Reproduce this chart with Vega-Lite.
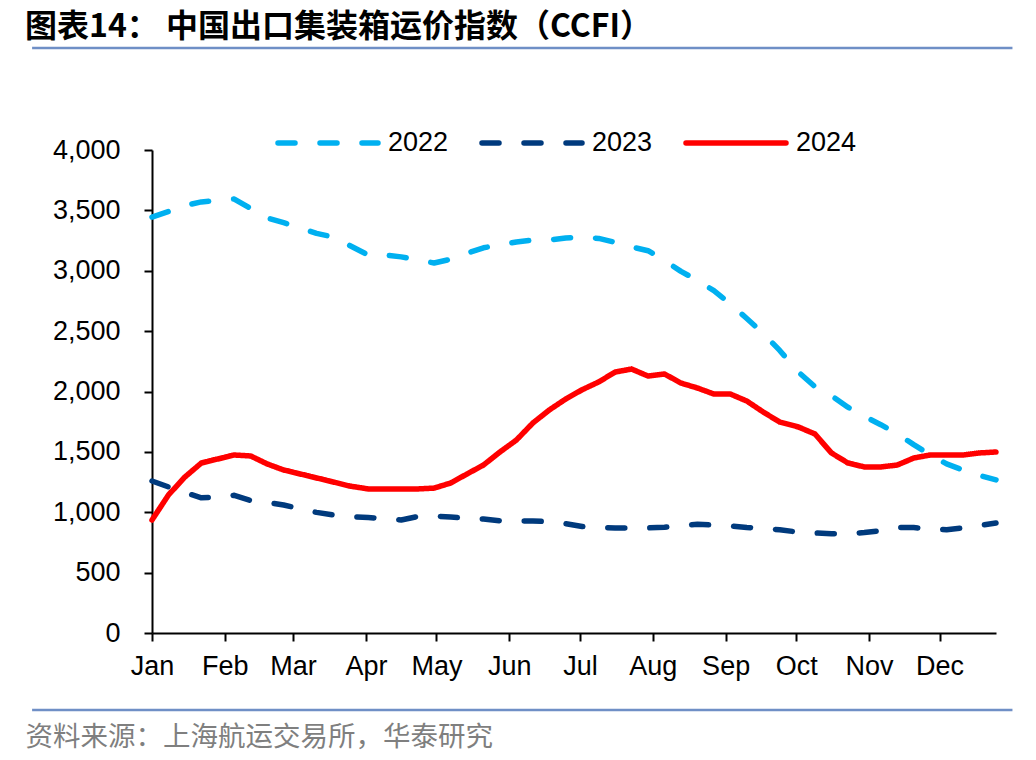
{
  "$schema": "https://vega.github.io/schema/vega-lite/v6.json",
  "width": 844,
  "height": 483,
  "autosize": {"type": "none"},
  "padding": {"left": 152, "top": 150, "right": 40, "bottom": 127},
  "background": "white",
  "title": {
    "text": "图表14： 中国出口集装箱运价指数（CCFI）",
    "anchor": "start",
    "frame": "group",
    "dx": -127,
    "offset": 3,
    "font": "Noto Sans CJK SC",
    "fontSize": 32,
    "fontWeight": "bold",
    "color": "#000000"
  },
  "config": {
    "view": {"stroke": null},
    "axis": {
      "labelFont": "Liberation Sans",
      "labelFontSize": 27,
      "labelColor": "#000000",
      "domainColor": "#000000",
      "domainWidth": 2,
      "tickColor": "#000000",
      "tickWidth": 2,
      "tickSize": 8,
      "grid": false
    }
  },
  "datasets": {
    "ccfi": [
      {"date":"2024-01-01","year":"2022","value":3445},
      {"date":"2024-01-08","year":"2022","value":3490},
      {"date":"2024-01-15","year":"2022","value":3540},
      {"date":"2024-01-22","year":"2022","value":3570},
      {"date":"2024-01-29","year":"2022","value":3582},
      {"date":"2024-02-05","year":"2022","value":3594},
      {"date":"2024-02-12","year":"2022","value":3515},
      {"date":"2024-02-19","year":"2022","value":3437},
      {"date":"2024-02-26","year":"2022","value":3398},
      {"date":"2024-03-04","year":"2022","value":3355},
      {"date":"2024-03-11","year":"2022","value":3310},
      {"date":"2024-03-18","year":"2022","value":3280},
      {"date":"2024-03-25","year":"2022","value":3210},
      {"date":"2024-04-02","year":"2022","value":3130},
      {"date":"2024-04-09","year":"2022","value":3130},
      {"date":"2024-04-16","year":"2022","value":3115},
      {"date":"2024-04-23","year":"2022","value":3090},
      {"date":"2024-04-30","year":"2022","value":3064},
      {"date":"2024-05-07","year":"2022","value":3095},
      {"date":"2024-05-14","year":"2022","value":3145},
      {"date":"2024-05-21","year":"2022","value":3190},
      {"date":"2024-05-28","year":"2022","value":3215},
      {"date":"2024-06-04","year":"2022","value":3238},
      {"date":"2024-06-11","year":"2022","value":3255},
      {"date":"2024-06-18","year":"2022","value":3255},
      {"date":"2024-06-25","year":"2022","value":3272},
      {"date":"2024-07-02","year":"2022","value":3278},
      {"date":"2024-07-09","year":"2022","value":3268},
      {"date":"2024-07-16","year":"2022","value":3235},
      {"date":"2024-07-23","year":"2022","value":3197},
      {"date":"2024-07-30","year":"2022","value":3166},
      {"date":"2024-08-06","year":"2022","value":3085},
      {"date":"2024-08-13","year":"2022","value":2995},
      {"date":"2024-08-20","year":"2022","value":2920},
      {"date":"2024-08-27","year":"2022","value":2835},
      {"date":"2024-09-03","year":"2022","value":2725},
      {"date":"2024-09-10","year":"2022","value":2605},
      {"date":"2024-09-17","year":"2022","value":2480},
      {"date":"2024-09-24","year":"2022","value":2340},
      {"date":"2024-10-02","year":"2022","value":2160},
      {"date":"2024-10-09","year":"2022","value":2040},
      {"date":"2024-10-16","year":"2022","value":1965},
      {"date":"2024-10-23","year":"2022","value":1870},
      {"date":"2024-10-30","year":"2022","value":1795},
      {"date":"2024-11-06","year":"2022","value":1725},
      {"date":"2024-11-13","year":"2022","value":1650},
      {"date":"2024-11-20","year":"2022","value":1560},
      {"date":"2024-11-27","year":"2022","value":1475},
      {"date":"2024-12-04","year":"2022","value":1400},
      {"date":"2024-12-11","year":"2022","value":1350},
      {"date":"2024-12-18","year":"2022","value":1305},
      {"date":"2024-12-25","year":"2022","value":1268},
      {"date":"2024-01-01","year":"2023","value":1259},
      {"date":"2024-01-08","year":"2023","value":1210},
      {"date":"2024-01-15","year":"2023","value":1163},
      {"date":"2024-01-22","year":"2023","value":1120},
      {"date":"2024-01-29","year":"2023","value":1125},
      {"date":"2024-02-05","year":"2023","value":1140},
      {"date":"2024-02-12","year":"2023","value":1097},
      {"date":"2024-02-19","year":"2023","value":1082},
      {"date":"2024-02-26","year":"2023","value":1060},
      {"date":"2024-03-04","year":"2023","value":1028},
      {"date":"2024-03-11","year":"2023","value":999},
      {"date":"2024-03-18","year":"2023","value":978},
      {"date":"2024-03-25","year":"2023","value":965},
      {"date":"2024-04-02","year":"2023","value":956},
      {"date":"2024-04-09","year":"2023","value":948},
      {"date":"2024-04-16","year":"2023","value":936},
      {"date":"2024-04-23","year":"2023","value":965},
      {"date":"2024-04-30","year":"2023","value":969},
      {"date":"2024-05-07","year":"2023","value":960},
      {"date":"2024-05-14","year":"2023","value":950},
      {"date":"2024-05-21","year":"2023","value":944},
      {"date":"2024-05-28","year":"2023","value":929},
      {"date":"2024-06-04","year":"2023","value":928},
      {"date":"2024-06-11","year":"2023","value":928},
      {"date":"2024-06-18","year":"2023","value":922},
      {"date":"2024-06-25","year":"2023","value":905},
      {"date":"2024-07-02","year":"2023","value":882},
      {"date":"2024-07-09","year":"2023","value":873},
      {"date":"2024-07-16","year":"2023","value":870},
      {"date":"2024-07-23","year":"2023","value":870},
      {"date":"2024-07-30","year":"2023","value":870},
      {"date":"2024-08-06","year":"2023","value":876},
      {"date":"2024-08-13","year":"2023","value":890},
      {"date":"2024-08-20","year":"2023","value":901},
      {"date":"2024-08-27","year":"2023","value":893},
      {"date":"2024-09-03","year":"2023","value":887},
      {"date":"2024-09-10","year":"2023","value":874},
      {"date":"2024-09-17","year":"2023","value":866},
      {"date":"2024-09-24","year":"2023","value":855},
      {"date":"2024-10-02","year":"2023","value":835},
      {"date":"2024-10-09","year":"2023","value":829},
      {"date":"2024-10-16","year":"2023","value":822},
      {"date":"2024-10-23","year":"2023","value":822},
      {"date":"2024-10-30","year":"2023","value":832},
      {"date":"2024-11-06","year":"2023","value":848},
      {"date":"2024-11-13","year":"2023","value":873},
      {"date":"2024-11-20","year":"2023","value":873},
      {"date":"2024-11-27","year":"2023","value":863},
      {"date":"2024-12-04","year":"2023","value":855},
      {"date":"2024-12-11","year":"2023","value":870},
      {"date":"2024-12-18","year":"2023","value":890},
      {"date":"2024-12-25","year":"2023","value":911},
      {"date":"2024-01-01","year":"2024","value":936},
      {"date":"2024-01-08","year":"2024","value":1143},
      {"date":"2024-01-15","year":"2024","value":1292},
      {"date":"2024-01-22","year":"2024","value":1408},
      {"date":"2024-01-29","year":"2024","value":1441},
      {"date":"2024-02-05","year":"2024","value":1474},
      {"date":"2024-02-12","year":"2024","value":1466},
      {"date":"2024-02-19","year":"2024","value":1400},
      {"date":"2024-02-26","year":"2024","value":1350},
      {"date":"2024-03-04","year":"2024","value":1317},
      {"date":"2024-03-11","year":"2024","value":1284},
      {"date":"2024-03-18","year":"2024","value":1251},
      {"date":"2024-03-25","year":"2024","value":1217},
      {"date":"2024-04-02","year":"2024","value":1193},
      {"date":"2024-04-09","year":"2024","value":1193},
      {"date":"2024-04-16","year":"2024","value":1193},
      {"date":"2024-04-23","year":"2024","value":1193},
      {"date":"2024-04-30","year":"2024","value":1200},
      {"date":"2024-05-07","year":"2024","value":1242},
      {"date":"2024-05-14","year":"2024","value":1317},
      {"date":"2024-05-21","year":"2024","value":1391},
      {"date":"2024-05-28","year":"2024","value":1499},
      {"date":"2024-06-04","year":"2024","value":1598},
      {"date":"2024-06-11","year":"2024","value":1739},
      {"date":"2024-06-18","year":"2024","value":1847},
      {"date":"2024-06-25","year":"2024","value":1938},
      {"date":"2024-07-02","year":"2024","value":2015},
      {"date":"2024-07-09","year":"2024","value":2079},
      {"date":"2024-07-16","year":"2024","value":2161},
      {"date":"2024-07-23","year":"2024","value":2186},
      {"date":"2024-07-30","year":"2024","value":2128},
      {"date":"2024-08-06","year":"2024","value":2145},
      {"date":"2024-08-13","year":"2024","value":2070},
      {"date":"2024-08-20","year":"2024","value":2029},
      {"date":"2024-08-27","year":"2024","value":1979},
      {"date":"2024-09-03","year":"2024","value":1979},
      {"date":"2024-09-10","year":"2024","value":1921},
      {"date":"2024-09-17","year":"2024","value":1830},
      {"date":"2024-09-24","year":"2024","value":1747},
      {"date":"2024-10-02","year":"2024","value":1706},
      {"date":"2024-10-09","year":"2024","value":1648},
      {"date":"2024-10-16","year":"2024","value":1491},
      {"date":"2024-10-23","year":"2024","value":1408},
      {"date":"2024-10-30","year":"2024","value":1375},
      {"date":"2024-11-06","year":"2024","value":1375},
      {"date":"2024-11-13","year":"2024","value":1391},
      {"date":"2024-11-20","year":"2024","value":1449},
      {"date":"2024-11-27","year":"2024","value":1474},
      {"date":"2024-12-04","year":"2024","value":1474},
      {"date":"2024-12-11","year":"2024","value":1474},
      {"date":"2024-12-18","year":"2024","value":1491},
      {"date":"2024-12-25","year":"2024","value":1499}
    ]
  },
  "layer": [
    {
      "data": {"name": "ccfi"},
      "mark": {"type": "line", "strokeWidth": 5.5, "strokeCap": "round", "strokeJoin": "round"},
      "encoding": {
        "x": {
          "field": "date",
          "type": "temporal",
          "scale": {
            "type": "utc",
            "domain": [
              {"year": 2024, "month": 1, "date": 1, "utc": true},
              {"year": 2024, "month": 12, "date": 25, "utc": true}
            ]
          },
          "axis": {
            "values": [
              {"year": 2024, "month": 1, "date": 1, "utc": true},
              {"year": 2024, "month": 2, "date": 1, "utc": true},
              {"year": 2024, "month": 3, "date": 1, "utc": true},
              {"year": 2024, "month": 4, "date": 1, "utc": true},
              {"year": 2024, "month": 5, "date": 1, "utc": true},
              {"year": 2024, "month": 6, "date": 1, "utc": true},
              {"year": 2024, "month": 7, "date": 1, "utc": true},
              {"year": 2024, "month": 8, "date": 1, "utc": true},
              {"year": 2024, "month": 9, "date": 1, "utc": true},
              {"year": 2024, "month": 10, "date": 1, "utc": true},
              {"year": 2024, "month": 11, "date": 1, "utc": true},
              {"year": 2024, "month": 12, "date": 1, "utc": true}
            ],
            "format": "%b",
            "labelPadding": 12,
            "labelFlush": false,
            "labelOverlap": false,
            "title": "资料来源：上海航运交易所，华泰研究",
            "titleFont": "Noto Sans CJK SC",
            "titleFontSize": 27.5,
            "titleFontWeight": "normal",
            "titleColor": "#7F7F7F",
            "titleAnchor": "start",
            "titleAlign": "left",
            "titleBaseline": "middle",
            "titleX": -127,
            "titleY": 104
          }
        },
        "y": {
          "field": "value",
          "type": "quantitative",
          "scale": {"domain": [0, 4000], "nice": false},
          "axis": {
            "values": [0, 500, 1000, 1500, 2000, 2500, 3000, 3500, 4000],
            "format": ",.0f",
            "labelPadding": 24,
            "title": null
          }
        },
        "color": {
          "field": "year",
          "type": "nominal",
          "scale": {"domain": ["2022", "2023", "2024"], "range": ["#00B0F0", "#003A7D", "#FF0000"]},
          "legend": {
            "orient": "none",
            "legendX": 123,
            "legendY": -60,
            "direction": "horizontal",
            "columns": 3,
            "title": null,
            "symbolType": "stroke",
            "symbolSize": 10000,
            "symbolStrokeWidth": 5.5,
            "labelFont": "Liberation Sans",
            "labelFontSize": 27,
            "labelColor": "#000000",
            "labelOffset": 7,
            "columnPadding": 22,
            "padding": 0,
            "encode": {"symbols": {"update": {"strokeCap": {"value": "round"}}}}
          }
        },
        "strokeDash": {
          "field": "year",
          "type": "nominal",
          "scale": {"domain": ["2022", "2023", "2024"], "range": [[17, 25], [17, 25], [1, 0]]}
        }
      }
    },
    {
      "data": {"values": [{}]},
      "mark": {"type": "rule", "color": "#6F8FC6", "strokeWidth": 2.5},
      "encoding": {
        "y": {"datum": 4845, "type": "quantitative"},
        "x": {"datum": {"year": 2023, "month": 11, "date": 11, "utc": true}, "type": "temporal"},
        "x2": {"datum": {"year": 2025, "month": 1, "date": 1, "utc": true}}
      }
    },
    {
      "data": {"values": [{}]},
      "mark": {"type": "rule", "color": "#6F8FC6", "strokeWidth": 2.5},
      "encoding": {
        "y": {"datum": -638, "type": "quantitative"},
        "x": {"datum": {"year": 2023, "month": 11, "date": 11, "utc": true}, "type": "temporal"},
        "x2": {"datum": {"year": 2025, "month": 1, "date": 1, "utc": true}}
      }
    }
  ]
}
